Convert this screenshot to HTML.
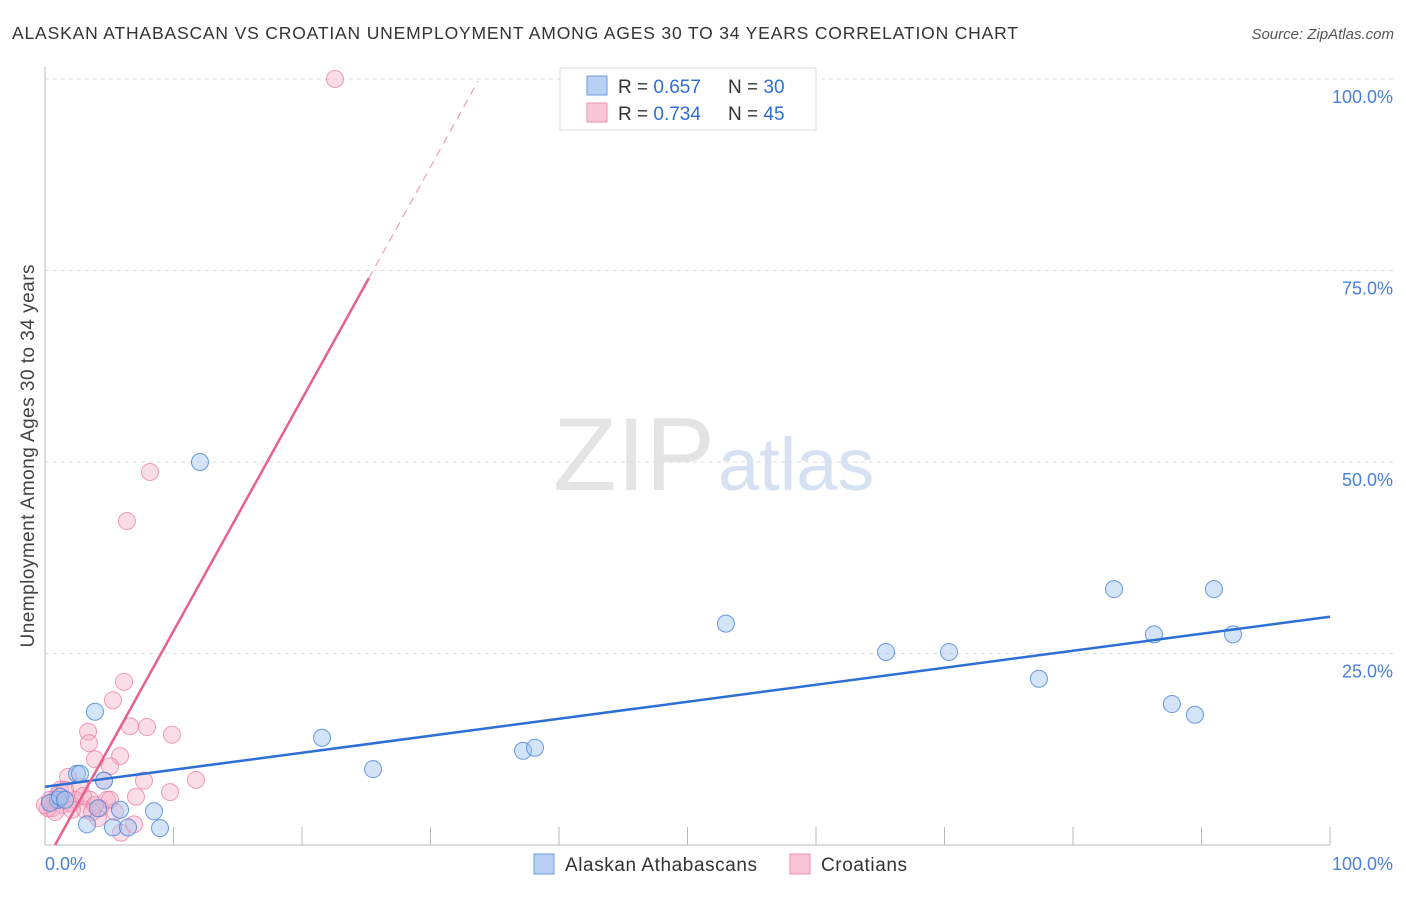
<!DOCTYPE html>
<html><head><meta charset="utf-8"><style>
body{margin:0;background:#fff;font-family:"Liberation Sans",sans-serif}
svg text{font-family:"Liberation Sans",sans-serif}
</style></head><body>
<svg id="c" width="1406" height="892" xmlns="http://www.w3.org/2000/svg">
<text x="12" y="39" font-size="17.5" fill="#333" textLength="1006" lengthAdjust="spacing">ALASKAN ATHABASCAN VS CROATIAN UNEMPLOYMENT AMONG AGES 30 TO 34 YEARS CORRELATION CHART</text>
<text x="1394" y="39" font-size="15" fill="#555" text-anchor="end" font-style="italic">Source: ZipAtlas.com</text>
<text x="34" y="456" font-size="19" fill="#444" text-anchor="middle" textLength="383" transform="rotate(-90 34 456)">Unemployment Among Ages 30 to 34 years</text>
<g><text x="634" y="490" font-size="104" fill="#e4e4e4" text-anchor="middle" font-family="Liberation Serif">ZIP</text><text x="718" y="490" font-size="74" fill="#d6e2f4">atlas</text></g>
<g id="grid"></g><g id="axes"></g><g id="marks"></g>
<g>
<rect x="560" y="68" width="256" height="62" fill="#fff" stroke="#ddd"/>
<rect x="587" y="76" width="20" height="19" fill="#b8d0f4" stroke="#6f9be0"/>
<text x="618" y="93" font-size="19" fill="#333">R = <tspan fill="#2e6fd6">0.657</tspan></text>
<text x="728" y="93" font-size="19" fill="#333">N = <tspan fill="#2e6fd6">30</tspan></text>
<rect x="587" y="103" width="20" height="19" fill="#f8c6d6" stroke="#ee8fae"/>
<text x="618" y="120" font-size="19" fill="#333">R = <tspan fill="#2e6fd6">0.734</tspan></text>
<text x="728" y="120" font-size="19" fill="#333">N = <tspan fill="#2e6fd6">45</tspan></text>
</g>
<g>
<rect x="534" y="854" width="20" height="20" fill="#b8d0f4" stroke="#6f9be0"/>
<text x="565" y="871" font-size="19" fill="#333" textLength="192">Alaskan Athabascans</text>
<rect x="790" y="854" width="20" height="20" fill="#f8c6d6" stroke="#ee8fae"/>
<text x="821" y="871" font-size="19" fill="#333" textLength="86">Croatians</text>
</g>
</svg>
<script>
const yTicks=[25,50,75,100];
const yTickLabels=["25.0%","50.0%","75.0%","100.0%"];
const xTickLabels=["0.0%","100.0%"];
const blueX=[12.06,3.89,21.56,25.53,37.2,38.13,52.99,65.45,70.35,77.35,83.19,86.3,87.7,89.49,90.97,92.45,2.49,2.72,4.59,4.12,3.27,5.29,6.46,5.84,8.48,8.95,1.01,0.39,1.17,1.56];
const blueY=[50.0,17.4,14.0,9.9,12.3,12.7,28.9,25.2,25.2,21.7,33.4,27.5,18.4,17.0,33.4,27.5,9.3,9.3,8.4,4.8,2.7,2.3,2.3,4.6,4.4,2.2,5.9,5.5,6.3,5.9];
const pinkX=[22.57,8.17,6.38,6.15,5.29,3.35,3.42,6.61,7.94,9.88,5.84,3.89,5.06,1.79,4.59,7.7,11.75,2.72,7.08,9.73,1.17,3.5,2.33,4.82,4.28,1.32,0.54,0.23,3.11,4.12,5.91,6.93,0.78,1.95,0,1.01,1.56,2.96,3.89,3.66,5.45,5.06,0.39,2.1,0.78];
const pinkY=[100,48.7,42.3,21.3,18.9,14.8,13.3,15.5,15.4,14.4,11.6,11.2,10.3,8.9,8.4,8.4,8.5,7.6,6.3,6.9,7.2,5.9,5.9,5.9,4.8,5.2,4.8,4.8,4.6,3.5,1.6,2.7,5.9,5.5,5.2,6.5,7.2,6.4,5.2,4.3,4.3,5.9,5.9,4.6,4.3];
const blueTrend=[7.6,29.8];
const pinkTrend={slope:3.03,intercept:-2.37,solidEnd:25.2,dashEnd:33.7};
const NS="http://www.w3.org/2000/svg";
const X=v=>45+v*12.85, Y=v=>845-v*7.66;
function mk(t,a,p){const e=document.createElementNS(NS,t);for(const k in a)e.setAttribute(k,a[k]);p.appendChild(e);return e;}
const grid=document.getElementById('grid'),axes=document.getElementById('axes'),marks=document.getElementById('marks');
yTicks.forEach((t,i)=>{
 const l=mk('line',{x1:45,x2:1395,y1:Y(t),y2:Y(t),stroke:'#ddd','stroke-dasharray':'4,4'},grid);
 
 
 const tx=mk('text',{x:1393,y:Y(t)+24,'font-size':18,fill:'#4a80d8','text-anchor':'end'},axes);tx.textContent=yTickLabels[i];
 
 
});
const ya=mk('line',{x1:45,x2:45,y1:67,y2:845,stroke:'#bbb'},axes);


const xa=mk('line',{x1:45,x2:1330,y1:845,y2:845,stroke:'#bbb'},axes);


for(let i=1;i<=10;i++){const t=mk('line',{x1:X(i*10),x2:X(i*10),y1:827,y2:845,stroke:'#bbb'},axes);
 
 }
[[0,'start',45],[100,'end',1393]].forEach((d,i)=>{const t=mk('text',{x:d[2],y:870,'font-size':18,fill:'#4a80d8','text-anchor':d[1]},axes);t.textContent=xTickLabels[i];
 
 });
pinkX.forEach((x,i)=>{const c=mk('circle',{cx:X(x),cy:Y(pinkY[i]),r:8.5,fill:'rgba(246,170,195,0.4)',stroke:'rgba(232,120,160,0.7)','stroke-width':1},marks);
 
 });
blueX.forEach((x,i)=>{const c=mk('circle',{cx:X(x),cy:Y(blueY[i]),r:8.5,fill:'rgba(160,195,240,0.45)',stroke:'rgba(70,130,220,0.8)','stroke-width':1},marks);
 
 });
const bt=mk('line',{x1:X(0),y1:Y(blueTrend[0]),x2:X(100),y2:Y(blueTrend[1]),stroke:'#2d6fd6','stroke-width':2.5},marks);


const x0=-pinkTrend.intercept/pinkTrend.slope;
const pt=mk('line',{x1:X(x0),y1:Y(0),x2:X(pinkTrend.solidEnd),y2:Y(pinkTrend.slope*pinkTrend.solidEnd+pinkTrend.intercept),stroke:'#e8608e','stroke-width':2.5},marks);


const pd=mk('line',{x1:X(pinkTrend.solidEnd),y1:Y(pinkTrend.slope*pinkTrend.solidEnd+pinkTrend.intercept),x2:X(pinkTrend.dashEnd),y2:Y(pinkTrend.slope*pinkTrend.dashEnd+pinkTrend.intercept),stroke:'#eea0b8','stroke-width':1.2,'stroke-dasharray':'8,6'},marks);


</script>
</body></html>
